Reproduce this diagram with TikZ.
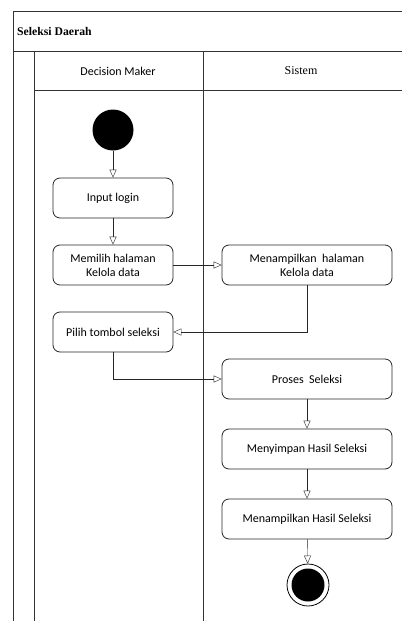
\documentclass[tikz,border=0pt]{standalone}
\usepackage{fontspec}
\setmainfont{Carlito}
\newfontfamily\titlefont{Liberation Serif}
\usetikzlibrary{positioning, arrows.meta}

\begin{document}
\begin{tikzpicture}[
    x=1pt, y=-1pt,
    every node/.style={font=\fontsize{12}{14}\selectfont},
    act/.style={draw, thick, black!85, text=black, rounded corners=7pt, minimum width=120pt, minimum height=40pt, align=center, inner sep=2pt},
    wideact/.style={act, minimum width=170pt},
    flow/.style={draw, black!85, -{Triangle[open, length=8pt, width=7pt]}},
    lane/.style={draw, line width=0.9pt, black!80}
  ]
  \useasboundingbox (0,0) rectangle (402,621);
  % swimlane frame
  \draw[lane] (402,11) -- (13,11) -- (13,621);
  \draw[lane] (13,51) -- (402,51);
  \draw[lane] (34,51) -- (34,621);
  \draw[lane] (34,90) -- (402,90);
  \draw[lane] (203,51) -- (203,621);
  \node[anchor=west, inner sep=1pt, font=\titlefont\bfseries\fontsize{11.7}{14}\selectfont] (title) at (16,31) {Seleksi Daerah};
  \node (dm) at (118,71) {Decision Maker};
  \node[font=\titlefont\fontsize{12}{14}\selectfont] (sys) at (301,71) {Sistem};

  % activities
  \node[circle, fill=black, minimum size=41pt, inner sep=0pt] (start) at (113,130) {};
  \node[act] (login) at (113,198) {Input login};
  \node[act] (pilihhal) at (113,265) {Memilih halaman\\Kelola data};
  \node[wideact] (tampilhal) at (307,265) {Menampilkan\ \ halaman\\Kelola data};
  \node[act] (tombol) at (113,332) {Pilih tombol seleksi};
  \node[wideact] (proses) at (307,379) {Proses\ \ Seleksi};
  \node[wideact] (simpan) at (307,449) {Menyimpan Hasil Seleksi};
  \node[wideact] (tampilhasil) at (307,519) {Menampilkan Hasil Seleksi};
  \node[circle, draw, thick, minimum size=42pt, inner sep=0pt] (stop) at (308,585) {};
  \node[circle, fill=black, minimum size=33pt, inner sep=0pt] at (stop) {};

  % flows
  \draw[flow] (start) -- (login);
  \draw[flow] (login) -- (pilihhal);
  \draw[flow] (pilihhal) -- (tampilhal);
  \draw[flow] (tampilhal.south) |- (tombol.east);
  \draw[flow] (tombol.south) |- (proses.west);
  \draw[flow] (proses) -- (simpan);
  \draw[flow] (simpan) -- (tampilhasil);
  \draw[flow] (tampilhasil) -- (stop);
\end{tikzpicture}
\end{document}
